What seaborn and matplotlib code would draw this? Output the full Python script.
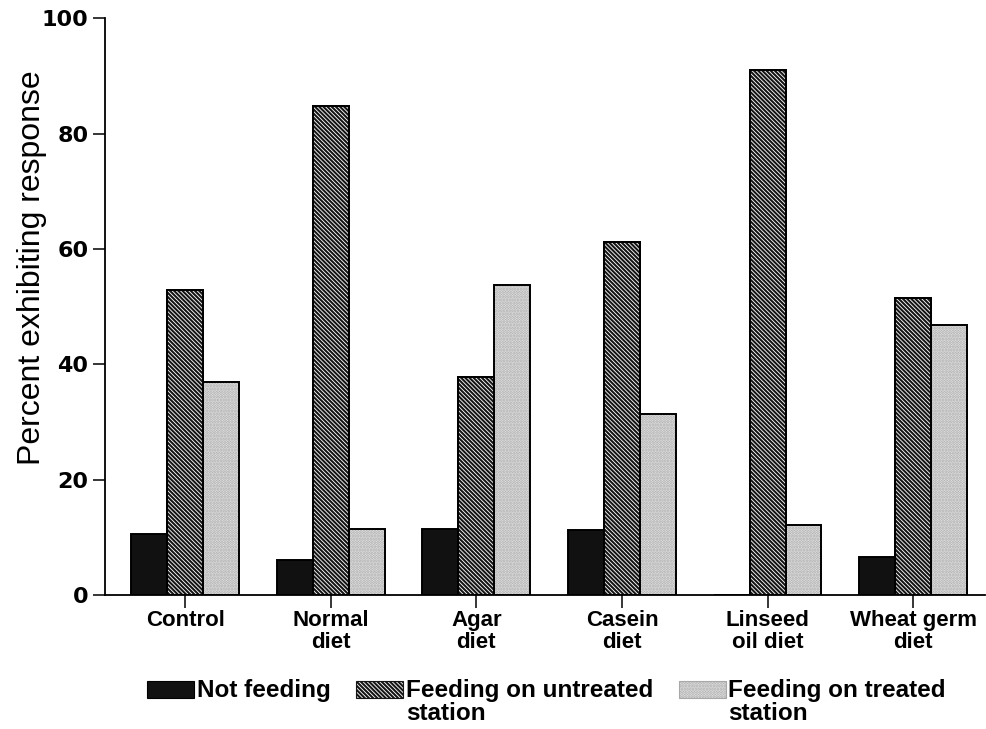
import matplotlib
matplotlib.use("Agg")
import matplotlib.pyplot as plt
import matplotlib.patches as mpatches
from matplotlib.legend_handler import HandlerPatch
import seaborn as sns
import pandas as pd

# Diet groups and response percentages for each behaviour
categories = ["Control", "Normal\ndiet", "Agar\ndiet", "Casein\ndiet",
              "Linseed\noil diet", "Wheat germ\ndiet"]
not_feeding = [10.5, 6.0, 11.5, 11.2, 0.0, 6.5]
feeding_untreated = [52.8, 84.8, 37.8, 61.2, 91.0, 51.5]
feeding_treated = [37.0, 11.5, 53.8, 31.4, 12.2, 46.8]
series_labels = ["Not feeding", "Feeding on untreated\nstation",
                 "Feeding on treated\nstation"]
y_ticks = [0, 20, 40, 60, 80, 100]

df = pd.DataFrame({
    "group": categories * 3,
    "value": not_feeding + feeding_untreated + feeding_treated,
    "series": [series_labels[0]] * 6 + [series_labels[1]] * 6 + [series_labels[2]] * 6,
})

sns.set_theme(style="white")
plt.rcParams["font.family"] = ["Liberation Sans", "DejaVu Sans"]
plt.rcParams["hatch.linewidth"] = 1.5
plt.rcParams["text.color"] = "black"
plt.rcParams["axes.labelcolor"] = "black"
plt.rcParams["xtick.color"] = "black"
plt.rcParams["ytick.color"] = "black"

fig = plt.figure(figsize=(9.86, 7.29), dpi=100)
ax = fig.add_axes([0.1065, 0.184, 0.892, 0.791])

sns.barplot(data=df, x="group", y="value", hue="series", order=categories,
            hue_order=series_labels, width=0.74, gap=0, dodge=True,
            palette=["#111111", "#ffffff", "#e6e6e6"], saturation=1,
            edgecolor="black", linewidth=1.4, legend=False, ax=ax)

styles = [
    dict(facecolor="#111111", hatch=None, edgecolor="black"),
    dict(facecolor="#ffffff", hatch="\\\\\\\\\\\\\\\\", edgecolor="#151515"),
    dict(facecolor="#ebebeb", hatch="......", edgecolor="#a8a8a8"),
]

for container, st in zip(ax.containers, styles):
    for bar in container:
        bar.set_facecolor(st["facecolor"])
        if st["hatch"]:
            bar.set_hatch(st["hatch"])
            bar.set_edgecolor(st["edgecolor"])
            # crisp black outline over the patterned fill
            outline = mpatches.Rectangle(bar.get_xy(), bar.get_width(), bar.get_height(),
                                         fill=False, edgecolor="black", linewidth=1.4,
                                         zorder=bar.get_zorder() + 0.1)
            ax.add_patch(outline)

ax.set_xlim(-0.55, 5.49)
ax.set_ylim(0, 100)
ax.set_yticks(y_ticks)
ax.set_yticklabels([str(t) for t in y_ticks], fontsize=16, fontweight="bold",
                   family=["DejaVu Sans"])
ax.set_xticks(range(len(categories)))
ax.set_xticklabels(categories, fontsize=16, fontweight="bold", linespacing=1.08)
ax.set_xlabel("")
ax.set_ylabel("Percent exhibiting response", fontsize=23)
ax.yaxis.set_label_coords(-0.066, 0.567)

sns.despine(ax=ax)
for side in ["left", "bottom"]:
    ax.spines[side].set_color("black")
    ax.spines[side].set_linewidth(1.3)
ax.tick_params(axis="both", direction="out", length=9, width=1.1, color="black",
               left=True, bottom=True)
ax.tick_params(axis="y", pad=3)
ax.tick_params(axis="x", pad=2)


def raised_box(legend, orig_handle, xdescent, ydescent, width, height, fontsize):
    # keep the swatch level with the first line of a two-line label
    return mpatches.Rectangle((-xdescent, -ydescent + 0.52 * fontsize), width, height)


handles = []
for st in styles:
    h = mpatches.Patch(facecolor=st["facecolor"], hatch=st["hatch"],
                       edgecolor=st["edgecolor"] if st["hatch"] else "black", linewidth=0.8)
    handles.append(h)
legend_labels = [series_labels[0] + "\n"] + series_labels[1:]
leg = fig.legend(handles, legend_labels, loc="upper left", bbox_to_anchor=(0.149, 0.068),
                 ncol=3, frameon=False, prop={"weight": "bold", "size": 17.5},
                 handlelength=1.95, handleheight=0.7, handletextpad=0.1,
                 columnspacing=1.05, borderpad=0, borderaxespad=0,
                 handler_map={mpatches.Patch: HandlerPatch(patch_func=raised_box)})
for t in leg.get_texts():
    t.set_linespacing(0.95)

fig.savefig("out.png", dpi=100)
